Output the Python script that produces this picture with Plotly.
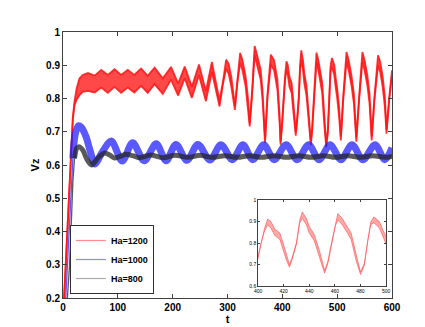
import plotly.graph_objects as go

# ---------------- data ----------------
# Ha=1200 (red): lower / upper edge of the fast-oscillation band
red_t = [2, 6, 9, 12, 15, 18, 21, 25, 30, 36,
         45.5, 57.6, 69.7, 81.8, 94, 106, 118, 130, 142.4, 154.5,
         167, 182, 197, 210, 222, 235, 248, 260.6, 271.5, 285.5,
         292, 297.5, 302, 307, 313.5, 318, 323, 327, 333, 337.5,
         340.5, 345, 349.5, 354.5, 360.5, 364, 368.5, 373, 379, 385,
         391, 395, 396.8, 400, 402.6, 405, 407.5, 410, 413, 417,
         419.5, 422, 424.5, 427, 430, 432.5, 434.5, 437.7, 440, 444,
         448, 452, 454.5, 457, 460.5, 462.3, 465.7, 469, 472.7, 476.6,
         480, 483, 485.7, 488, 490.5, 494.8, 497.4, 500, 503.5, 506.7,
         511, 517, 521, 526, 530.5, 535, 540, 546, 550, 555,
         559, 563, 568, 574.5, 578.5, 583, 587, 590, 595, 600]
red_lo = [0.200, 0.330, 0.450, 0.560, 0.660, 0.738, 0.780, 0.797, 0.810, 0.820,
          0.823, 0.818, 0.833, 0.817, 0.835, 0.817, 0.833, 0.818, 0.838, 0.817,
          0.843, 0.814, 0.857, 0.809, 0.861, 0.802, 0.870, 0.792, 0.880, 0.776,
          0.846, 0.890, 0.875, 0.835, 0.766, 0.846, 0.907, 0.887, 0.837, 0.775,
          0.716, 0.815, 0.930, 0.897, 0.857, 0.795, 0.666, 0.805, 0.902, 0.885,
          0.827, 0.728, 0.661, 0.730, 0.805, 0.855, 0.885, 0.870, 0.835, 0.817,
          0.771, 0.722, 0.688, 0.730, 0.795, 0.893, 0.915, 0.885, 0.847, 0.809,
          0.733, 0.660, 0.705, 0.781, 0.883, 0.908, 0.885, 0.855, 0.817, 0.718,
          0.654, 0.695, 0.812, 0.885, 0.895, 0.870, 0.832, 0.802, 0.745, 0.674,
          0.795, 0.910, 0.885, 0.840, 0.785, 0.670, 0.795, 0.910, 0.885, 0.840,
          0.785, 0.674, 0.795, 0.900, 0.880, 0.835, 0.775, 0.694, 0.795, 0.870]
red_hi = [0.200, 0.330, 0.452, 0.562, 0.664, 0.745, 0.792, 0.832, 0.860, 0.871,
          0.877, 0.869, 0.886, 0.871, 0.888, 0.871, 0.886, 0.871, 0.890, 0.868,
          0.893, 0.861, 0.895, 0.845, 0.896, 0.835, 0.902, 0.822, 0.910, 0.794,
          0.854, 0.917, 0.905, 0.865, 0.778, 0.856, 0.937, 0.917, 0.867, 0.800,
          0.726, 0.825, 0.958, 0.927, 0.887, 0.822, 0.676, 0.815, 0.932, 0.915,
          0.857, 0.750, 0.670, 0.740, 0.815, 0.868, 0.912, 0.900, 0.865, 0.847,
          0.801, 0.748, 0.700, 0.740, 0.805, 0.905, 0.945, 0.915, 0.877, 0.839,
          0.763, 0.672, 0.715, 0.791, 0.895, 0.938, 0.915, 0.885, 0.847, 0.748,
          0.666, 0.705, 0.822, 0.898, 0.922, 0.900, 0.862, 0.832, 0.775, 0.686,
          0.805, 0.940, 0.915, 0.870, 0.815, 0.682, 0.805, 0.940, 0.915, 0.870,
          0.815, 0.686, 0.805, 0.930, 0.910, 0.865, 0.805, 0.706, 0.805, 0.885]

# Ha=1000 (blue): centre line of the band
blue_t = [5, 8, 11, 14, 18, 22, 28, 33, 42, 50, 58, 72, 88, 108, 127, 148, 170, 188,
          206, 226, 246, 268, 288, 309, 328, 346, 366, 385, 407, 427, 448, 467,
          487, 507, 527, 547, 569, 587, 600]
blue_v = [0.20, 0.30, 0.42, 0.52, 0.62, 0.69, 0.718, 0.714, 0.685, 0.64, 0.603, 0.64,
          0.672, 0.612, 0.667, 0.613, 0.664, 0.613, 0.662, 0.614, 0.662, 0.615, 0.661,
          0.616, 0.661, 0.616, 0.661, 0.616, 0.661, 0.616, 0.661, 0.616, 0.661, 0.616,
          0.661, 0.616, 0.661, 0.616, 0.652]

# Ha=800 (black): centre line of the band
black_t = [8, 12, 15, 18, 21, 25, 29, 36, 44, 52, 64, 76, 85, 94, 104, 115, 127, 139,
           160, 182, 205, 228, 250, 272, 295, 318, 340, 362, 385, 408, 430, 452,
           475, 497, 520, 542, 565, 587, 600]
black_v = [0.20, 0.30, 0.42, 0.55, 0.62, 0.65, 0.655, 0.645, 0.616, 0.600, 0.622, 0.636,
           0.630, 0.621, 0.626, 0.632, 0.628, 0.622, 0.630, 0.622, 0.629, 0.623, 0.629,
           0.623, 0.628, 0.623, 0.628, 0.623, 0.628, 0.623, 0.628, 0.623, 0.628, 0.623,
           0.628, 0.623, 0.628, 0.623, 0.626]

legend_names = ["Ha=1200", "Ha=1000", "Ha=800"]
x_ticks = [0, 100, 200, 300, 400, 500, 600]
y_ticks = [0.2, 0.3, 0.4, 0.5, 0.6, 0.7, 0.8, 0.9, 1.0]
y_tick_text = ["0.2", "0.3", "0.4", "0.5", "0.6", "0.7", "0.8", "0.9", "1"]
inset_x_ticks = [400, 420, 440, 460, 480, 500]
inset_y_ticks = [0.6, 0.7, 0.8, 0.9, 1.0]
inset_y_text = ["0.6", "0.7", "0.8", "0.9", "1"]

# number of leading points drawn as the thin start-up transient
BLUE_RISE = 5
BLACK_RISE = 5

# ---------------- styles ----------------
RED_LINE = "rgba(255,20,20,0.85)"
RED_FILL = "rgba(255,40,40,0.85)"
INSET_LINE = "rgba(255,60,60,0.75)"
INSET_FILL = "rgba(255,110,110,0.6)"
BLUE = "rgba(25,25,255,0.72)"
BLACK = "rgba(35,35,35,0.75)"
FONT = "Liberation Sans, Arial, sans-serif"

fig = go.Figure()


def add_red(xa, ya, lw, lc, fc):
    fig.add_trace(go.Scatter(x=red_t, y=red_lo, mode="lines", xaxis=xa, yaxis=ya,
                             line=dict(color=lc, width=lw), showlegend=False,
                             hoverinfo="skip"))
    fig.add_trace(go.Scatter(x=red_t, y=red_hi, mode="lines", xaxis=xa, yaxis=ya,
                             fill="tonexty", fillcolor=fc,
                             line=dict(color=lc, width=lw), showlegend=False,
                             hoverinfo="skip"))


def add_band(t, v, n_rise, color, width):
    fig.add_trace(go.Scatter(x=t[:n_rise], y=v[:n_rise], mode="lines",
                             line=dict(color=color, width=1.3),
                             showlegend=False, hoverinfo="skip"))
    fig.add_trace(go.Scatter(x=t[n_rise - 1:], y=v[n_rise - 1:], mode="lines",
                             line=dict(color=color, width=width, shape="spline",
                                       smoothing=0.9),
                             showlegend=False, hoverinfo="skip"))


add_red("x", "y", 1.8, RED_LINE, RED_FILL)
add_band(blue_t, blue_v, BLUE_RISE, BLUE, 7)
add_band(black_t, black_v, BLACK_RISE, BLACK, 5)
add_red("x2", "y2", 0.7, INSET_LINE, INSET_FILL)

# legend entries (thin pale lines as in the original)
for name, col in zip(legend_names, ["rgb(255,140,140)", "rgb(140,140,255)", "rgb(170,170,170)"]):
    fig.add_trace(go.Scatter(x=[None], y=[None], mode="lines", name=name,
                             line=dict(color=col, width=1.2)))

axis_common = dict(showline=True, linecolor="#404040", linewidth=1, mirror="ticks",
                   ticks="inside", ticklen=4, tickcolor="#404040", showgrid=False,
                   zeroline=False)
inset_axis = dict(axis_common, ticklen=2, linewidth=0.8)

fig.update_layout(
    width=425, height=327,
    margin=dict(l=55, r=41, t=24, b=37),
    paper_bgcolor="white", plot_bgcolor="white",
    font=dict(family=FONT, color="black"),
    xaxis=dict(range=[0, 600], tickvals=x_ticks, domain=[0, 1],
               tickfont=dict(size=10, weight="bold"),
               title=dict(text="t", font=dict(size=11, weight="bold"), standoff=2),
               **axis_common),
    yaxis=dict(range=[0.2, 1.0], tickvals=y_ticks, ticktext=y_tick_text, domain=[0, 1],
               tickfont=dict(size=10, weight="bold"),
               title=dict(text="Vz", font=dict(size=11, weight="bold"), standoff=4),
               **axis_common),
    xaxis2=dict(range=[400, 500], tickvals=inset_x_ticks, domain=[0.593, 0.982],
                anchor="y2", tickfont=dict(size=5), **inset_axis),
    yaxis2=dict(range=[0.6, 1.0], tickvals=inset_y_ticks, ticktext=inset_y_text,
                domain=[0.045, 0.368], anchor="x2", tickfont=dict(size=5), **inset_axis),
    legend=dict(x=0.021, y=0.015, xanchor="left", yanchor="bottom",
                bgcolor="white", bordercolor="#303030", borderwidth=1,
                font=dict(size=9, weight="bold"), itemwidth=30,
                traceorder="normal", tracegroupgap=0),
    showlegend=True,
)

fig.write_html("out.html")
